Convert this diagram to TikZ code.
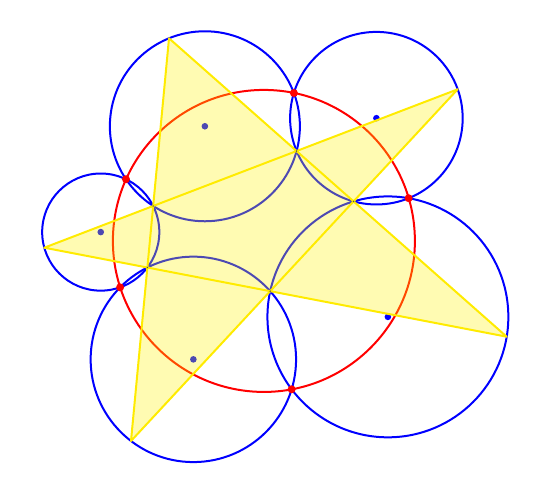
\documentclass[tikz,border=0pt]{standalone}
\usepackage{tikz}

\definecolor{starline}{RGB}{255,235,0}

\begin{document}
\begin{tikzpicture}[x=1pt, y=-1pt,
  tipcircle/.style={draw=blue, line width=2pt},
  miquelcircle/.style={draw=red, line width=2pt},
  centredot/.style={fill=blue},
  miqueldot/.style={fill=red},
  innerdot/.style={fill=black!70}]
  \useasboundingbox (0,0) rectangle (552,481);

  % star tips
  \coordinate (T) at (169,38.3);
  \coordinate (R) at (457.7,89.3);
  \coordinate (BR) at (506.7,336.7);
  \coordinate (BL) at (131,441);
  \coordinate (L) at (44.3,247.7);

  % inner pentagon
  \coordinate (P1) at (intersection of T--BR and R--L);
  \coordinate (P2) at (intersection of T--BR and R--BL);
  \coordinate (P3) at (intersection of R--BL and L--BR);
  \coordinate (P4) at (intersection of L--BR and T--BL);
  \coordinate (P5) at (intersection of T--BL and R--L);

  % centres of the tip circles
  \coordinate (CT) at (204.87,126.27);
  \coordinate (CR) at (376.4,118.19);
  \coordinate (CBR) at (387.89,316.87);
  \coordinate (CBL) at (193.36,359.37);
  \coordinate (CL) at (100.75,232.08);

  % second crossings of neighbouring circles
  \coordinate (M1) at (293.88,93.02);
  \coordinate (M2) at (408.64,198.22);
  \coordinate (M3) at (291.62,389.28);
  \coordinate (M4) at (120.1,287.36);
  \coordinate (M5) at (125.98,179.22);
  \coordinate (O) at (263.89,240.93);

  \draw[tipcircle] (CT) circle[radius=95.0];
  \draw[tipcircle] (CR) circle[radius=86.28];
  \draw[tipcircle] (CBR) circle[radius=120.45];
  \draw[tipcircle] (CBL) circle[radius=102.72];
  \draw[tipcircle] (CL) circle[radius=58.57];

  \draw[miquelcircle] (O) circle[radius=151];

  \fill[centredot] (CT) circle[radius=3.3];
  \fill[centredot] (CR) circle[radius=3.3];
  \fill[centredot] (CBR) circle[radius=3.3];
  \fill[centredot] (CBL) circle[radius=3.3];
  \fill[centredot] (CL) circle[radius=3.3];

  \fill[yellow, fill opacity=0.3] (T) -- (BL) -- (R) -- (L) -- (BR) -- cycle;
  \draw[starline, line width=2pt, line join=round] (T) -- (BL) -- (R) -- (L) -- (BR) -- cycle;

  \foreach \p in {P1,P2,P3,P4,P5}
    \fill[innerdot] (\p) circle[radius=0.8];

  \foreach \m in {M1,M2,M3,M4,M5}
    \fill[miqueldot] (\m) circle[radius=4];

\end{tikzpicture}
\end{document}
